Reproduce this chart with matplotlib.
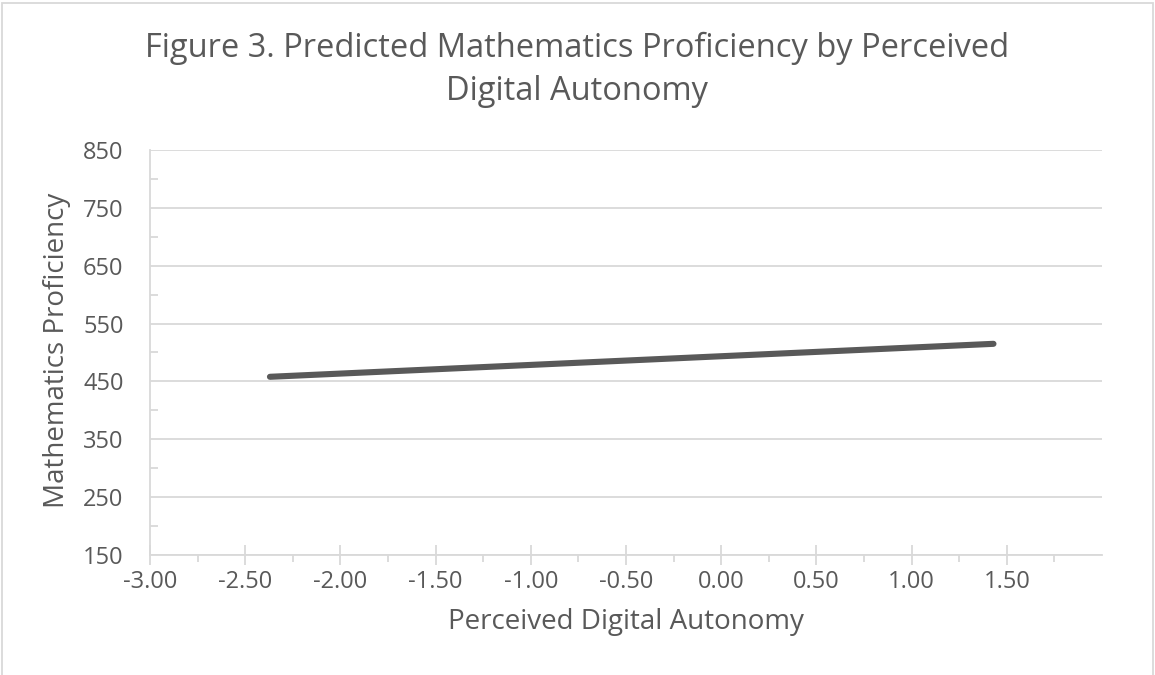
import numpy as np
import matplotlib.pyplot as plt
from matplotlib.ticker import FixedLocator
from matplotlib.patches import Rectangle

# Predicted line endpoints
autonomy    = [-2.37, 1.43]
proficiency = [458, 515]

x_ticks = [-3.0, -2.5, -2.0, -1.5, -1.0, -0.5, 0.0, 0.5, 1.0, 1.5]
y_ticks = [150, 250, 350, 450, 550, 650, 750, 850]

text_color = '#595959'
grid_color = '#d9d9d9'
plt.rcParams['font.family'] = ['Open Sans', 'DejaVu Sans']

figure = plt.figure(figsize=(11.55, 6.75), dpi=100)
figure.patch.set_facecolor('white')
axes = figure.add_axes([150 / 1155, 1 - 555 / 675, (1102 - 150) / 1155, (555 - 150) / 675])

# Draw the line
axes.plot(autonomy, proficiency, color='#595959', linewidth=4.4, solid_capstyle='round', zorder=3)

# Axes limits and ticks
axes.set_xlim(-3.0, 2.0)
axes.set_ylim(150, 850)
axes.xaxis.set_major_locator(FixedLocator(x_ticks))
axes.xaxis.set_minor_locator(FixedLocator([t + 0.25 for t in x_ticks]))
axes.set_xticklabels([f"{t:.2f}" for t in x_ticks])
axes.yaxis.set_major_locator(FixedLocator(y_ticks))
axes.yaxis.set_minor_locator(FixedLocator([t + 50 for t in y_ticks[:-1]]))
axes.set_yticklabels([str(t) for t in y_ticks])

axes.tick_params(axis='x', which='major', direction='inout', length=14, width=1.3, color=grid_color,
                 labelcolor=text_color, labelsize=17, pad=4)
axes.tick_params(axis='x', which='minor', direction='out', length=5, width=1.3, color=grid_color)
axes.tick_params(axis='y', which='major', length=0, labelcolor=text_color, labelsize=17, pad=19)
axes.tick_params(axis='y', which='minor', direction='in', length=6, width=1.3, color=grid_color)

# Gridlines and spines
axes.grid(axis='y', which='major', color=grid_color, linewidth=1.3)
axes.set_axisbelow(True)
for side in ['top', 'right']:
    axes.spines[side].set_visible(False)
for side in ['left', 'bottom']:
    axes.spines[side].set_color(grid_color)
    axes.spines[side].set_linewidth(1.3)

# Labels and title
figure.text(626 / 1155, 1 - 622 / 675, 'Perceived Digital Autonomy', ha='center', va='center',
            color=text_color, fontsize=20)
figure.text(57 / 1155, 1 - 350 / 675, 'Mathematics Proficiency', ha='center', va='center',
            rotation=90, color=text_color, fontsize=20)
figure.text(0.5, 1 - 70 / 675, 'Figure 3. Predicted Mathematics Proficiency by Perceived\nDigital Autonomy',
            ha='center', va='center', color=text_color, fontsize=23.5, linespacing=1.42)

# Chart border
figure.patches.append(Rectangle((0.002, -0.01), 0.996, 1.006, transform=figure.transFigure,
                                fill=False, edgecolor=grid_color, linewidth=1.3))

figure.savefig('out.png', dpi=100, facecolor='white')
